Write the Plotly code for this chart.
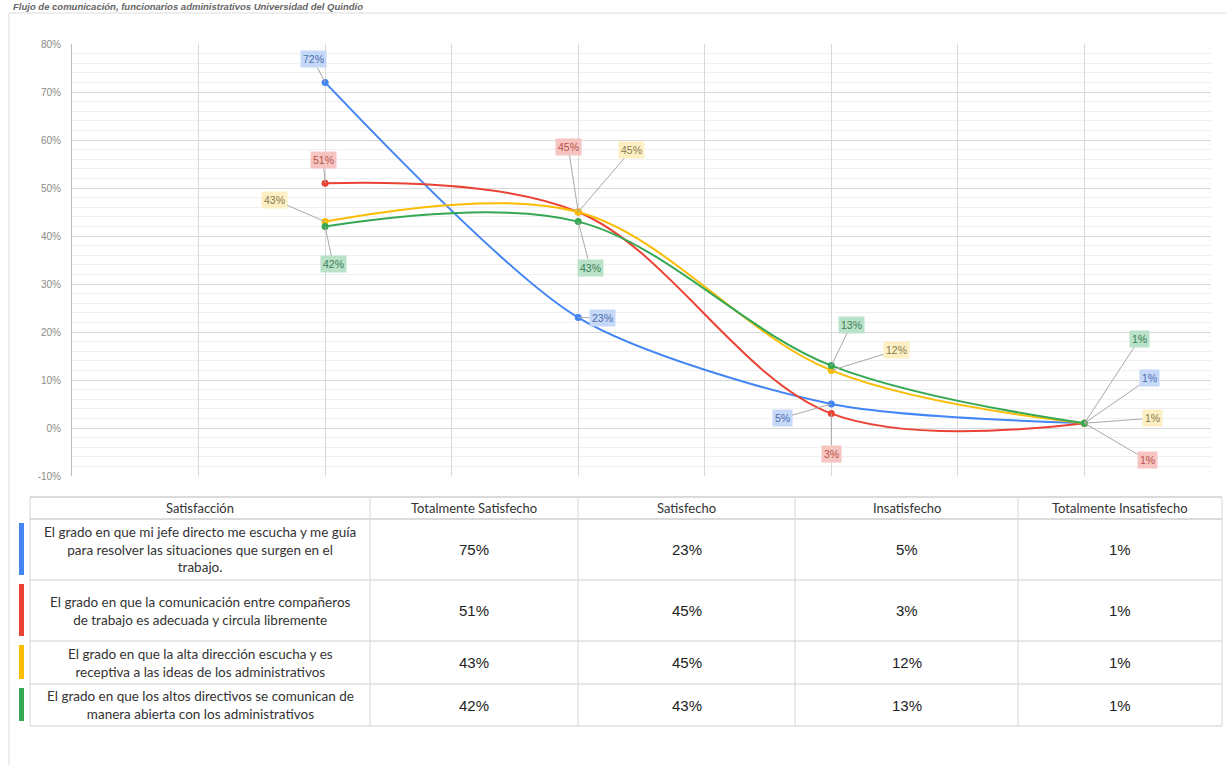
import plotly.graph_objects as go

# ---- data -------------------------------------------------------------
categorias = ["Totalmente Satisfecho", "Satisfecho", "Insatisfecho", "Totalmente Insatisfecho"]

series_nombres = [
    "El grado en que mi jefe directo me escucha y me guía para resolver las situaciones que surgen en el trabajo.",
    "El grado en que la comunicación entre compañeros de trabajo es adecuada y circula libremente",
    "El grado en que la alta dirección escucha y es receptiva a las ideas de los administrativos",
    "El grado en que los altos directivos se comunican de manera abierta con los administrativos",
]

# values plotted in the chart (percent)
jefe_directo = [72, 23, 5, 1]
companeros = [51, 45, 3, 1]
alta_direccion = [43, 45, 12, 1]
altos_directivos = [42, 43, 13, 1]

# values listed in the table under the chart (percent)
tabla_jefe_directo = [75, 23, 5, 1]
tabla_companeros = [51, 45, 3, 1]
tabla_alta_direccion = [43, 45, 12, 1]
tabla_altos_directivos = [42, 43, 13, 1]

y_ticks = [-10, 0, 10, 20, 30, 40, 50, 60, 70, 80]
y_tick_text = ["-10%", "0%", "10%", "20%", "30%", "40%", "50%", "60%", "70%", "80%"]

titulo = "Flujo de comunicación, funcionarios administrativos Universidad del Quindío"
encabezado_tabla = "Satisfacción"

# row descriptions as wrapped in the table cells
filas_texto = [
    "El grado en que mi jefe directo me escucha y me guía<br>para resolver las situaciones que surgen en el<br>trabajo.",
    "El grado en que la comunicación entre compañeros<br>de trabajo es adecuada y circula libremente",
    "El grado en que la alta dirección escucha y es<br>receptiva a las ideas de los administrativos",
    "El grado en que los altos directivos se comunican de<br>manera abierta con los administrativos",
]

# ---- style ------------------------------------------------------------
W, H = 1226, 765
colores = ["#4285f4", "#ea4335", "#fbbc04", "#34a853"]
suavizado = [0.75, 1.0, 1.0, 1.0]
fondos_etiqueta = ["#c6d8f7", "#f6c5c1", "#fdefc4", "#b9e2c8"]
texto_etiqueta = ["#4a6db0", "#b8524a", "#8a7a50", "#3b7d55"]

# pixel offsets (ax, ay) of each data-label box relative to its point
desplazamientos = [
    [(-12, -23), (24, 0), (-49, 14), (65, -45)],
    [(-2, -23), (-10, -65), (0, 40), (63, 37)],
    [(-51, -22), (53, -62), (65, -20), (68, -5)],
    [(8, 38), (12, 46), (20, -41), (55, -84)],
]


def px_x(p):
    return p / W


def px_y(p):
    return 1 - p / H


series = [jefe_directo, companeros, alta_direccion, altos_directivos]
tabla = [tabla_jefe_directo, tabla_companeros, tabla_alta_direccion, tabla_altos_directivos]
x_idx = list(range(len(categorias)))

fig = go.Figure()

for nombre, valores, color, sm in zip(series_nombres, series, colores, suavizado):
    fig.add_trace(go.Scatter(
        x=x_idx, y=valores, name=nombre, mode="lines+markers",
        line=dict(color=color, width=2, shape="spline", smoothing=sm),
        marker=dict(color=color, size=7),
        hoverinfo="skip",
    ))

annotations = []
for s, valores in enumerate(series):
    for i, v in enumerate(valores):
        ax, ay = desplazamientos[s][i]
        annotations.append(dict(
            x=x_idx[i], y=v, xref="x", yref="y",
            text=f"{v}%", showarrow=True, arrowhead=0, arrowwidth=1,
            arrowcolor="#a8a8a8", ax=ax, ay=ay, standoff=0,
            bgcolor=fondos_etiqueta[s], borderpad=2,
            font=dict(family="Liberation Sans, Arial", size=10.5, color=texto_etiqueta[s]),
        ))

# chart title along the top edge
annotations.append(dict(
    x=px_x(12), y=px_y(0), xref="paper", yref="paper", xanchor="left", yanchor="top",
    text=f"<b><i>{titulo}</i></b>", showarrow=False, borderpad=0,
    font=dict(family="Liberation Sans, Arial", size=9.5, color="#666666"),
))

# ---- table under the chart ------------------------------------------
col_bordes = [30, 370, 578, 795, 1018, 1222]
fila_bordes = [497, 519, 580, 641, 684, 726]
shapes = []

# outer frame (right and bottom edges run off the page)
shapes.append(dict(type="rect", xref="paper", yref="paper",
                   x0=px_x(9), x1=px_x(1240), y0=px_y(13), y1=px_y(780),
                   line=dict(color="#dcdcdc", width=1), fillcolor="rgba(0,0,0,0)", layer="below"))

for yb in fila_bordes:
    shapes.append(dict(type="line", xref="paper", yref="paper",
                       x0=px_x(col_bordes[0]), x1=px_x(col_bordes[-1]), y0=px_y(yb), y1=px_y(yb),
                       line=dict(color="#cfcfcf", width=1.5 if yb in fila_bordes[:2] else 1)))
for xb in col_bordes:
    shapes.append(dict(type="line", xref="paper", yref="paper",
                       x0=px_x(xb), x1=px_x(xb), y0=px_y(fila_bordes[0]), y1=px_y(fila_bordes[-1]),
                       line=dict(color="#d6d6d6", width=1)))

# coloured series markers to the left of each row
for r, color in enumerate(colores):
    top, bot = fila_bordes[r + 1], fila_bordes[r + 2]
    shapes.append(dict(type="rect", xref="paper", yref="paper",
                       x0=px_x(19), x1=px_x(24), y0=px_y(top + 4), y1=px_y(bot - 5),
                       line=dict(width=0), fillcolor=color))

fuente_tabla = "Lato, Liberation Sans"
centros = [(col_bordes[c] + col_bordes[c + 1]) / 2 for c in range(len(col_bordes) - 1)]
encabezados = [encabezado_tabla] + categorias
hy = (fila_bordes[0] + fila_bordes[1]) / 2
for c, txt in enumerate(encabezados):
    annotations.append(dict(x=px_x(centros[c]), y=px_y(hy), xref="paper", yref="paper",
                            text=txt, showarrow=False, xanchor="center", yanchor="middle",
                            font=dict(family=fuente_tabla, size=13, color="#333333")))

for r in range(len(filas_texto)):
    cy = (fila_bordes[r + 1] + fila_bordes[r + 2]) / 2
    annotations.append(dict(x=px_x(centros[0]), y=px_y(cy), xref="paper", yref="paper",
                            text=filas_texto[r], showarrow=False, xanchor="center", yanchor="middle",
                            align="center",
                            font=dict(family=fuente_tabla, size=13.5, color="#333333")))
    for c, v in enumerate(tabla[r]):
        annotations.append(dict(x=px_x(centros[c + 1]), y=px_y(cy), xref="paper", yref="paper",
                                text=f"{v}%", showarrow=False, xanchor="center", yanchor="middle",
                                font=dict(family="Liberation Sans, Arial", size=15, color="#222222")))

fig.update_layout(
    width=W, height=H,
    margin=dict(l=0, r=0, t=0, b=0, autoexpand=False),
    paper_bgcolor="white", plot_bgcolor="white",
    showlegend=False,
    annotations=annotations,
    shapes=shapes,
    xaxis=dict(
        domain=[px_x(72), px_x(1211)],
        range=[-1, 3.5],
        tickvals=[-1 + 0.5 * k for k in range(10)],
        showticklabels=False, ticks="",
        showgrid=True, gridcolor="#d9d9d9", gridwidth=1,
        zeroline=False, showline=False, fixedrange=True, automargin=False,
    ),
    yaxis=dict(
        domain=[px_y(476), px_y(44)],
        range=[-10, 80],
        tickvals=y_ticks, ticktext=y_tick_text,
        showgrid=True, gridcolor="#d9d9d9", gridwidth=1,
        minor=dict(dtick=2, showgrid=True, gridcolor="#f0f0f0", gridwidth=1),
        zeroline=False, showline=True, linecolor="#bdbdbd", linewidth=1,
        tickfont=dict(family="Liberation Sans, Arial", size=10, color="#8a8a8a"),
        ticklabelstandoff=8, fixedrange=True, automargin=False,
    ),
)

fig.write_html("out.html", config={"displayModeBar": False},
               post_script="document.body.style.margin='0';")
